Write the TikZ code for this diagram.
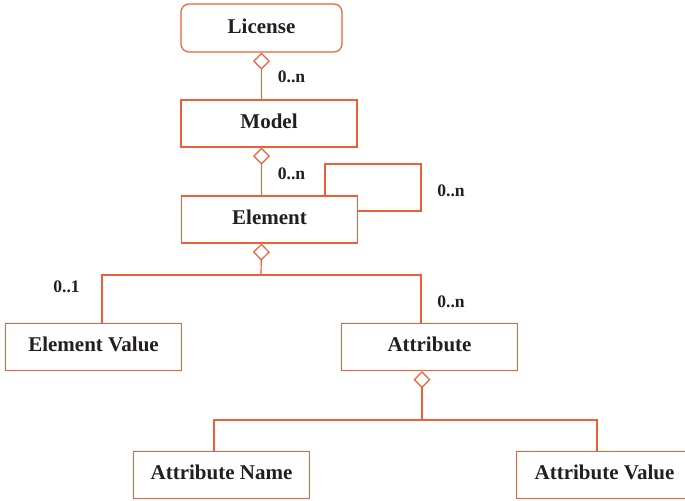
\documentclass[tikz,border=0pt]{standalone}
\usepackage{fontspec}
\setmainfont{Liberation Serif}
\usetikzlibrary{arrows.meta}
\definecolor{umlred}{RGB}{238,95,55}
\definecolor{umltext}{RGB}{35,31,32}

\begin{document}
\begin{tikzpicture}[x=0.5pt,y=-0.5pt,line width=0.6pt]
      \useasboundingbox (0,0) rectangle (685,501);

      \begin{scope}[every node/.style={draw=umlred,fill=white,text=umltext,
          font=\fontsize{10.5}{12}\selectfont\bfseries,
          text height=7pt,text depth=2pt,
          minimum width=88pt,minimum height=23.5pt,inner sep=0pt}]
        \node[rounded corners=4pt,minimum width=80.5pt,minimum height=24pt,text depth=1pt] (license) at (261.5,28) {License};
        \node (model)     at (269,123.5)  {Model};
        \node (element)   at (269.5,219.5) {Element};
        \node (elemvalue) at (93.5,347)   {Element Value};
        \node (attribute) at (429.5,347)  {Attribute};
        \node (attrname)  at (221.5,475)  {Attribute Name};
        \node (attrvalue) at (604.5,475)  {Attribute Value};
      \end{scope}

      \coordinate (split1) at (261,275);
      \coordinate (split2) at (422,420);
      \coordinate (loopa)  at (325,164);
      \coordinate (loopb)  at (421,211);

      \begin{scope}[umlred,agg/.style={{Diamond[open,length=8.5pt,width=8.5pt]}-}]
        \draw[agg] (license.south) -- (license.south |- model.north);
        \draw[agg] (model.south -| license.south) -- (element.north -| license.south);
        \draw (element.north -| loopa) -- (loopa) -| (loopb) -- (loopb -| element.east);
        \draw[agg] (element.south -| license.south) -- (split1);
        \draw (split1) -| ([xshift=4.25pt]elemvalue.north);
        \draw (split1) -| ([xshift=-4.25pt]attribute.north);
        \draw[agg] ([xshift=-3.75pt]attribute.south) -- (split2);
        \draw (split2) -| ([xshift=-3.75pt]attrname.north);
        \draw (split2) -| ([xshift=-3.75pt]attrvalue.north);
      \end{scope}

      \begin{scope}[every node/.style={text=umltext,font=\fontsize{8.8}{10}\selectfont\bfseries}]
        \node (card1) at (291.5,77)  {0..n};
        \node (card2) at (291.5,174) {0..n};
        \node (card3) at (451,191)   {0..n};
        \node (card4) at (66.5,287)  {0..1};
        \node (card5) at (451,302)   {0..n};
      \end{scope}

    \end{tikzpicture}
\end{document}
